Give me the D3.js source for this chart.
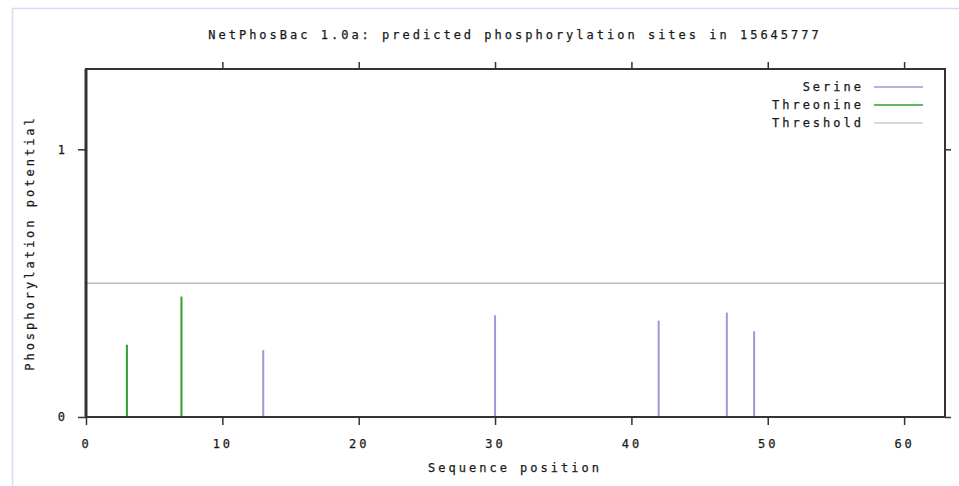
<!DOCTYPE html>
<html>
<head>
<meta charset="utf-8">
<script src="https://cdn.jsdelivr.net/npm/d3@7"></script>
<style>
  body { margin: 0; background: #fff; }
  svg text { font-family: 'DejaVu Sans Mono', monospace; font-size: 12px; letter-spacing: 3px; fill: #1a1a1a; stroke: #1a1a1a; stroke-width: 0.25px; }
</style>
</head>
<body>
<svg id="chart" width="959" height="486"></svg>
<script>
// data
const serinePos = [13, 30, 42, 47, 49];
const serineVal = [0.25, 0.38, 0.36, 0.39, 0.32];
const threoninePos = [3, 7];
const threonineVal = [0.27, 0.45];
const threshold = 0.5;
const xTicks = [0, 10, 20, 30, 40, 50, 60];
const yTicks = [0, 1];

const margin = { top: 69, right: 14, bottom: 69, left: 86 };
const width = 959, height = 486;

const svg = d3.select('#chart');

// light blue frame around the picture
svg.append('path')
  .attr('d', `M12.5,486 V8.5 H959`)
  .attr('fill', 'none')
  .attr('stroke', '#cfe0f2')
  .attr('stroke-width', 1.5);

const x = d3.scaleLinear().domain([0, 63]).range([margin.left, width - margin.right]);
const y = d3.scaleLinear().domain([0, 1.3]).range([height - margin.bottom, margin.top]);

// threshold
svg.append('line')
  .attr('x1', x(0)).attr('x2', x(63))
  .attr('y1', y(threshold)).attr('y2', y(threshold))
  .attr('stroke', '#bbb').attr('stroke-width', 1.5);

// spikes
const spikes = (pos, val, color, w) => {
  svg.append('g').selectAll('line')
    .data(pos.map((p, i) => [p, val[i]]))
    .join('line')
    .attr('x1', (d) => x(d[0])).attr('x2', (d) => x(d[0]))
    .attr('y1', y(0)).attr('y2', (d) => y(d[1]))
    .attr('stroke', color).attr('stroke-width', w);
};
spikes(serinePos, serineVal, '#9a9ad8', 2);
spikes(threoninePos, threonineVal, '#2ea02e', 2);

// axes
const axisStyle = (g) => {
  g.select('.domain').remove();
  g.selectAll('.tick line').attr('stroke', '#333').attr('stroke-width', 1.5);
};
svg.append('g')
  .attr('transform', `translate(0,${y(0)})`)
  .call(d3.axisBottom(x).tickValues(xTicks).tickSize(8).tickPadding(14).tickFormat(d3.format('d')))
  .call(axisStyle)
  .call((g) => g.selectAll('text').attr('font-size', null).attr('font-family', null));
svg.append('g')
  .attr('transform', `translate(0,${y(1.3)})`)
  .call(d3.axisTop(x).tickValues(xTicks.slice(1)).tickSize(7).tickFormat(''))
  .call(axisStyle);
svg.append('g')
  .attr('transform', `translate(${x(0)},0)`)
  .call(d3.axisLeft(y).tickValues(yTicks).tickSize(8).tickPadding(10).tickFormat(d3.format('d')))
  .call(axisStyle)
  .call((g) => g.selectAll('text').attr('font-size', null).attr('font-family', null));
svg.append('g')
  .attr('transform', `translate(${x(63)},0)`)
  .call(d3.axisRight(y).tickValues(yTicks).tickSize(6).tickFormat(''))
  .call(axisStyle);

// frame
svg.append('rect')
  .attr('x', x(0)).attr('y', y(1.3))
  .attr('width', x(63) - x(0)).attr('height', y(0) - y(1.3))
  .attr('fill', 'none').attr('stroke', '#333').attr('stroke-width', 2);
svg.append('line')
  .attr('x1', x(0)).attr('x2', x(0))
  .attr('y1', y(1.3)).attr('y2', y(0))
  .attr('stroke', '#333').attr('stroke-width', 3);

// titles
svg.append('text')
  .attr('x', 515).attr('y', 39)
  .attr('text-anchor', 'middle')
  .text('NetPhosBac 1.0a: predicted phosphorylation sites in 15645777');
svg.append('text')
  .attr('x', 515).attr('y', 472)
  .attr('text-anchor', 'middle')
  .text('Sequence position');
svg.append('text')
  .attr('transform', `translate(34,${y(0.65)}) rotate(-90)`)
  .attr('text-anchor', 'middle')
  .text('Phosphorylation potential');

// legend
const legendNames = ['Serine', 'Threonine', 'Threshold'];
const legendColors = ['#9a9ad8', '#2ea02e', '#ccc'];
const lg = svg.append('g').selectAll('g')
  .data(legendNames)
  .join('g')
  .attr('transform', (d, i) => `translate(0,${87 + i * 18})`);
lg.append('text')
  .attr('x', 864).attr('y', 4)
  .attr('text-anchor', 'end')
  .text((d) => d);
lg.append('line')
  .attr('x1', 874).attr('x2', 923)
  .attr('stroke', (d, i) => legendColors[i])
  .attr('stroke-width', 1.5);
</script>
</body>
</html>
